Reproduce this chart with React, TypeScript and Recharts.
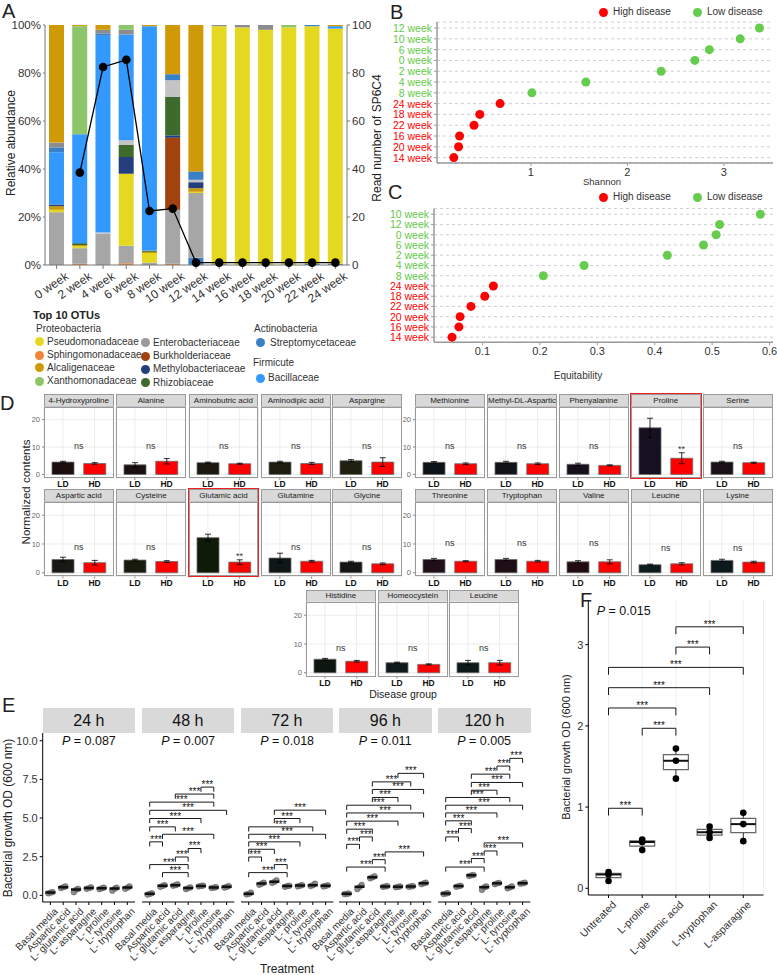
import React from 'react'
import {
  ComposedChart,
  BarChart,
  ScatterChart,
  Bar,
  Line,
  Scatter,
  XAxis,
  YAxis,
  CartesianGrid,
  ErrorBar,
  Cell,
  ReferenceLine,
  ReferenceDot,
  ReferenceArea,
} from 'recharts'

const FONT = '"Liberation Sans", Arial, sans-serif'

// ---------- A: relative abundance of top OTUs + SP6C4 reads
const weeks = ['0 week', '2 week', '4 week', '6 week', '8 week', '10 week', '12 week', '14 week', '16 week', '18 week', '20 week', '22 week', '24 week']
const sphingo = [0, 0.5, 0, 0.7, 0, 0.5, 0, 0, 0, 0, 0, 0, 0]
const streptoLow = [0, 0, 0, 0, 0, 0, 3, 0.3, 0, 0, 0, 0.5, 0.5]
const enteroLow = [22, 6.5, 13, 7.3, 1, 22.5, 27, 0, 0, 0, 0, 0, 0]
const pseudo = [1, 0.8, 0, 30, 4, 0, 0.5, 99.2, 99, 98, 99, 99, 98]
const alcaligLow = [1.5, 0.5, 0, 0, 0.5, 0, 1.5, 0, 0, 0, 0, 0, 0]
const burkh = [0, 0, 0, 0, 0, 30, 0, 0, 0, 0, 0, 0, 0]
const methylo = [0.7, 0, 0, 7, 0, 1, 2.5, 0, 0, 0, 0, 0, 0]
const rhizo = [0, 0.8, 0, 5, 0.5, 16, 0, 0, 0, 0, 0, 0, 0]
const otherLow = [0, 0, 0.5, 2, 0, 7, 1, 0, 0, 0, 0, 0, 0]
const bacill = [21.8, 45.4, 82, 44, 93.5, 0, 0, 0, 0, 0, 0, 0, 1]
const strepto = [2, 0, 1, 0, 0, 2.5, 3.5, 0, 0, 0, 0, 0.5, 0]
const enteroHigh = [2, 0, 1.5, 2, 0, 0, 0, 0.5, 1, 2, 0, 0, 0]
const xantho = [0, 45, 0, 2, 0, 0, 0, 0, 0, 0, 1, 0, 0]
const alcalig = [49, 0.5, 2, 0, 0.5, 20.5, 61, 0, 0, 0, 0, 0, 0.5]
const sp6c4 = [null, 38.5, 82.5, 85.5, 22.5, 23.5, 1, 1, 1, 1, 1, 1, 1]

const layersA = [
  { key: 'sphingo', color: '#F08336', values: sphingo },
  { key: 'streptoLow', color: '#3A80C6', values: streptoLow },
  { key: 'enteroLow', color: '#A6A6A6', values: enteroLow },
  { key: 'pseudo', color: '#E5D821', values: pseudo },
  { key: 'alcaligLow', color: '#C89A0A', values: alcaligLow },
  { key: 'burkh', color: '#A2430F', values: burkh },
  { key: 'methylo', color: '#243F7E', values: methylo },
  { key: 'rhizo', color: '#3E6A2B', values: rhizo },
  { key: 'otherLow', color: '#C4C4C4', values: otherLow },
  { key: 'bacill', color: '#3399FF', values: bacill },
  { key: 'strepto', color: '#3A80C6', values: strepto },
  { key: 'enteroHigh', color: '#8C8C8C', values: enteroHigh },
  { key: 'xantho', color: '#8DC66A', values: xantho },
  { key: 'alcalig', color: '#D09A06', values: alcalig },
]

const dataA = weeks.map((w, i) => {
  const row: any = { week: w, sp6c4: sp6c4[i] }
  layersA.forEach((l) => (row[l.key] = l.values[i]))
  return row
})

const legendCol1 = ['Pseudomonadaceae', 'Sphingomonadaceae', 'Alcaligenaceae', 'Xanthomonadaceae']
const legendCol1Colors = ['#E5D821', '#F08336', '#D09A06', '#8DC66A']
const legendCol2 = ['Enterobacteriaceae', 'Burkholderiaceae', 'Methylobacteriaceae', 'Rhizobiaceae']
const legendCol2Colors = ['#9A9A9A', '#A2430F', '#243F7E', '#3E6A2B']

// ---------- B / C: diversity per week (bottom to top)
const bWeeks = ['14 week', '20 week', '16 week', '22 week', '18 week', '24 week', '8 week', '4 week', '2 week', '0 week', '6 week', '10 week', '12 week']
const bShannon = [0.2, 0.25, 0.26, 0.41, 0.47, 0.68, 1.01, 1.57, 2.35, 2.7, 2.85, 3.17, 3.37]
const bHigh = [true, true, true, true, true, true, false, false, false, false, false, false, false]
const cWeeks = ['14 week', '16 week', '20 week', '22 week', '18 week', '24 week', '8 week', '4 week', '2 week', '6 week', '0 week', '12 week', '10 week']
const cEquit = [0.047, 0.059, 0.061, 0.08, 0.104, 0.119, 0.206, 0.277, 0.422, 0.485, 0.507, 0.513, 0.584]
const cHigh = [true, true, true, true, true, true, false, false, false, false, false, false, false]

// ---------- D: amino acid contents
const aminoNames = ['4-Hydroxyproline', 'Alanine', 'Aminobutric acid', 'Aminodipic acid', 'Aspargine', 'Methionine', 'Methyl-DL-Aspartic', 'Phenyalanine', 'Proline', 'Serine', 'Aspartic acid', 'Cysteine', 'Glutamic acid', 'Glutamine', 'Glycine', 'Threonine', 'Tryptophan', 'Valine', 'Leucine', 'Lysine', 'Histidine', 'Homeocystein', 'Leucine']
const ldMean = [4.5, 3.5, 4.3, 4.5, 5.0, 4.4, 4.4, 3.7, 17, 4.5, 4.6, 4.4, 12.2, 5.1, 3.7, 4.6, 4.6, 3.8, 2.8, 4.3, 4.7, 3.5, 3.5]
const ldErr = [0.3, 0.8, 0.2, 0.3, 0.4, 0.3, 0.4, 0.4, 3.5, 0.3, 0.8, 0.3, 1.2, 1.7, 0.3, 0.4, 0.4, 0.4, 0.2, 0.4, 0.3, 0.2, 0.8]
const hdMean = [4.0, 4.8, 3.9, 4.0, 4.5, 3.9, 3.9, 3.3, 5.9, 4.3, 3.5, 3.9, 3.7, 4.0, 3.1, 4.0, 4.0, 3.8, 3.1, 3.7, 4.0, 2.9, 3.5]
const hdErr = [0.3, 1.0, 0.2, 0.4, 1.6, 0.3, 0.3, 0.2, 2.0, 0.2, 0.8, 0.3, 0.8, 0.3, 0.3, 0.2, 0.3, 0.7, 0.4, 0.3, 0.3, 0.2, 0.8]
const sigText = ['ns', 'ns', 'ns', 'ns', 'ns', 'ns', 'ns', 'ns', '**', 'ns', 'ns', 'ns', '**', 'ns', 'ns', 'ns', 'ns', 'ns', 'ns', 'ns', 'ns', 'ns', 'ns']
const sigY = [10.3, 10.3, 10.3, 10.3, 10.3, 10.3, 10.3, 10.3, 9.3, 10.3, 9.1, 9.1, 5.8, 9.1, 9.1, 10.3, 10.3, 10.3, 8.6, 8.6, 8.8, 8.8, 8.8]
const ldColors = ['#1C0D0E', '#1A1010', '#1B1812', '#1C1C10', '#202010', '#0C1418', '#101418', '#16101C', '#171020', '#1A1018', '#181814', '#181A0E', '#101A08', '#0E1616', '#141616', '#200E18', '#200E16', '#200C0E', '#0E1C1E', '#0C1A1E', '#0E1610', '#101A1E', '#0E1A1A']
const highlighted = ['Proline', 'Glutamic acid']

// ---------- E: growth with amino acids over time
const treatments = ['Basal media', 'Aspartic acid', 'L- glutamic acid', 'L- asparagine', 'L- proline', 'L- tyrosine', 'L- tryptophan']
const hours = ['24 h', '48 h', '72 h', '96 h', '120 h']
const pValues = ['0.087', '0.007', '0.018', '0.011', '0.005']
const od24 = [[0.13, 0.18, 0.21], [0.47, 0.53, 0.58], [0.2, 0.38, 0.42], [0.42, 0.48, 0.52], [0.4, 0.46, 0.5], [0.3, 0.44, 0.5], [0.42, 0.5, 0.58]]
const od48 = [[0.05, 0.1, 0.14], [0.55, 0.62, 0.66], [0.62, 0.66, 0.72], [0.4, 0.47, 0.52], [0.58, 0.61, 0.63], [0.48, 0.5, 0.53], [0.5, 0.55, 0.6]]
const od72 = [[0.06, 0.1, 0.18], [0.68, 0.76, 0.82], [0.8, 0.88, 0.98], [0.55, 0.6, 0.62], [0.58, 0.63, 0.66], [0.6, 0.66, 0.76], [0.58, 0.62, 0.65]]
const od96 = [[0.08, 0.1, 0.12], [0.4, 0.55, 0.68], [1.1, 1.17, 1.24], [0.55, 0.58, 0.6], [0.52, 0.55, 0.58], [0.55, 0.58, 0.6], [0.72, 0.78, 0.82]]
const od120 = [[0.08, 0.12, 0.14], [0.55, 0.6, 0.62], [1.25, 1.3, 1.32], [0.35, 0.53, 0.58], [0.72, 0.78, 0.8], [0.45, 0.52, 0.58], [0.75, 0.78, 0.82]]
const odAll = [od24, od48, od72, od96, od120]
const sig24: number[][] = []
const sig48 = [[5, 6, 7.0], [3, 6, 6.55], [1, 6, 6.03], [1, 7, 5.5], [1, 5, 4.97], [1, 3, 4.43], [2, 6, 3.95], [1, 2, 3.46], [4, 5, 3.03], [3, 4, 2.48], [1, 4, 1.99], [2, 4, 1.47]]
const sig72 = [[3, 7, 5.51], [3, 5, 4.97], [1, 6, 4.43], [1, 7, 3.95], [1, 5, 3.46], [1, 3, 2.98], [1, 2, 2.48], [3, 4, 1.99], [1, 4, 1.47]]
const sig96 = [[5, 7, 7.89], [3, 6, 7.34], [3, 7, 6.85], [3, 5, 6.33], [1, 6, 5.83], [1, 7, 5.33], [1, 5, 4.8], [1, 3, 4.28], [2, 3, 3.78], [1, 2, 3.3], [4, 7, 2.81], [3, 4, 2.31], [1, 4, 1.83]]
const sig120 = [[6, 7, 8.86], [5, 6, 8.36], [3, 6, 7.84], [3, 7, 7.3], [3, 5, 6.8], [1, 6, 6.33], [1, 7, 5.83], [1, 5, 5.33], [1, 3, 4.82], [2, 3, 4.32], [1, 2, 3.78], [4, 7, 3.39], [4, 5, 2.87], [3, 4, 2.38], [1, 4, 1.83]]
const sigAll = [sig24, sig48, sig72, sig96, sig120]

// ---------- F: growth with single amino acids
const fGroups = ['Untreated', 'L-proline', 'L-glutamic acid', 'L-tryptophan', 'L-asparagine']
const fPoints = [[0.09, 0.17, 0.2], [0.47, 0.57, 0.6], [1.35, 1.57, 1.72], [0.62, 0.69, 0.76], [0.58, 0.79, 0.93]]
const fSig = [[1, 2, 0.985], [2, 3, 1.97], [1, 3, 2.22], [1, 4, 2.47], [1, 5, 2.72], [3, 4, 2.97], [3, 5, 3.22]]
const fP = '0.015'

// ---------- helpers
function Txt({ x, y, children, size = 12, anchor = 'middle', rotate = 0, weight = 400, color = '#222' }: any) {
  const tx = anchor === 'middle' ? '-50%' : anchor === 'end' ? '-100%' : '0'
  return (
    <div
      style={{
        position: 'absolute',
        left: x,
        top: y,
        transform: `translate(${tx}, -50%) rotate(${rotate}deg)`,
        whiteSpace: 'nowrap',
        fontSize: size,
        fontWeight: weight,
        color,
        lineHeight: 1,
        fontFamily: FONT,
      }}
    >
      {children}
    </div>
  )
}

const rotTick = (labels: (v: any) => string, angle: number, size: number, dx: number, color = '#333') => (p: any) => {
  const ax = p.x + dx
  const ay = p.y
  return (
    <text x={ax} y={ay} transform={`rotate(${angle} ${ax} ${ay})`} textAnchor="end" dy="0.72em" fontSize={size} fill={color} fontFamily={FONT}>
      {labels(p.payload.value)}
    </text>
  )
}

function PanelA() {
  return (
    <div style={{ position: 'absolute', left: 0, top: 0 }}>
      <ComposedChart width={400} height={310} data={dataA} margin={{ top: 25, right: 0, bottom: 0, left: 0 }}>
        <XAxis dataKey="week" height={45} interval={0} tickSize={4} stroke="#777" tick={rotTick((v) => v, -34, 12, 8)} />
        <YAxis
          yAxisId="l"
          width={45}
          domain={[0, 100]}
          ticks={[0, 20, 40, 60, 80, 100]}
          tickFormatter={(v) => `${v}%`}
          tickSize={2}
          stroke="#777"
          tick={{ fontSize: 11.5, fill: '#333', fontFamily: FONT }}
        />
        <YAxis
          yAxisId="r"
          orientation="right"
          width={53}
          domain={[0, 100]}
          ticks={[0, 20, 40, 60, 80, 100]}
          tickSize={3}
          stroke="#777"
          tick={{ fontSize: 11.5, fill: '#333', fontFamily: FONT }}
        />
        {layersA.map((l) => (
          <Bar key={l.key} yAxisId="l" dataKey={l.key} stackId="s" fill={l.color} barSize={15} isAnimationActive={false} />
        ))}
        <Line
          yAxisId="r"
          type="linear"
          dataKey="sp6c4"
          stroke="#000"
          strokeWidth={1.3}
          dot={{ r: 4.3, fill: '#000', stroke: '#000', strokeWidth: 0 }}
          activeDot={false}
          isAnimationActive={false}
        />
      </ComposedChart>
      <Txt x={11} y={143} size={12} rotate={-90}>Relative abundance</Txt>
      <Txt x={377} y={138} size={12} rotate={-90}>Read number of SP6C4</Txt>
    </div>
  )
}

function Swatch({ x, y, color }: any) {
  return <div style={{ position: 'absolute', left: x - 4.5, top: y - 4.5, width: 9, height: 9, borderRadius: '50%', background: color }} />
}

function LegendA() {
  const r1 = [341.7, 355, 367.7, 381]
  const r2 = [342.7, 356, 369, 382.7]
  return (
    <div>
      <Txt x={33} y={315} size={11} weight={700} anchor="start">Top 10 OTUs</Txt>
      <Txt x={36} y={329} size={10} anchor="start" color="#333">Proteobacteria</Txt>
      {legendCol1.map((n, i) => (
        <div key={n}>
          <Swatch x={39} y={r1[i]} color={legendCol1Colors[i]} />
          <Txt x={47} y={r1[i]} size={10} anchor="start" color="#333">{n}</Txt>
        </div>
      ))}
      {legendCol2.map((n, i) => (
        <div key={n}>
          <Swatch x={145} y={r2[i]} color={legendCol2Colors[i]} />
          <Txt x={153} y={r2[i]} size={10} anchor="start" color="#333">{n}</Txt>
        </div>
      ))}
      <Txt x={254} y={329} size={10} anchor="start" color="#333">Actinobacteria</Txt>
      <Swatch x={260} y={342.5} color="#3A80C6" />
      <Txt x={270} y={342.5} size={10} anchor="start" color="#333">Streptomycetaceae</Txt>
      <Txt x={253} y={363} size={10} anchor="start" color="#333">Firmicute</Txt>
      <Swatch x={260} y={378} color="#3399FF" />
      <Txt x={268} y={378} size={10} anchor="start" color="#333">Bacillaceae</Txt>
    </div>
  )
}

function DotPlot({ left, top, width, height, mTop, yW, xH, labels, values, high, domain, ticks, fmt }: any) {
  const pts = labels.map((_: string, i: number) => ({ x: values[i], y: i, hi: high[i] }))
  const rowTick = (p: any) => (
    <text x={p.x} y={p.y} textAnchor="end" dominantBaseline="central" fontSize={10.5} fill={high[p.payload.value] ? '#FF0000' : '#62C946'} fontFamily={FONT}>
      {labels[p.payload.value]}
    </text>
  )
  return (
    <div style={{ position: 'absolute', left, top }}>
      <ScatterChart width={width} height={height} margin={{ top: mTop, right: 4, bottom: 0, left: 0 }}>
        <CartesianGrid vertical={false} stroke="#cfcfcf" strokeDasharray="3 3" />
        <XAxis
          type="number"
          dataKey="x"
          domain={domain}
          allowDataOverflow
          ticks={ticks}
          tickFormatter={fmt}
          height={xH}
          axisLine={{ stroke: '#9a9a9a', strokeWidth: 1.5 }}
          tickLine={{ stroke: '#9a9a9a' }}
          tickSize={3}
          tick={{ fontSize: 11, fill: '#333', fontFamily: FONT }}
        />
        <YAxis
          type="number"
          dataKey="y"
          domain={[-0.5, 12.55]}
          allowDataOverflow
          ticks={labels.map((_: string, i: number) => i)}
          interval={0}
          width={yW}
          axisLine={{ stroke: '#9a9a9a', strokeWidth: 1.5 }}
          tickLine={{ stroke: '#9a9a9a' }}
          tickSize={3}
          tick={rowTick}
        />
        <Scatter data={pts.filter((p: any) => p.hi)} isAnimationActive={false} shape={(p: any) => <circle cx={p.cx} cy={p.cy} r={4.5} fill="#FF0000" />} />
        <Scatter data={pts.filter((p: any) => !p.hi)} isAnimationActive={false} shape={(p: any) => <circle cx={p.cx} cy={p.cy} r={4.5} fill="#66CC4D" />} />
      </ScatterChart>
    </div>
  )
}

function DiseaseLegend({ y }: any) {
  return (
    <div>
      <Swatch x={603} y={y} color="#FF0000" />
      <Txt x={613} y={y} size={10} anchor="start" color="#333">High disease</Txt>
      <Swatch x={697} y={y} color="#66CC4D" />
      <Txt x={707} y={y} size={10} anchor="start" color="#333">Low disease</Txt>
    </div>
  )
}

const dCols = [44, 116.3, 188.7, 261, 332.3, 415, 487, 559, 631, 703]
const dRow3 = [306, 378, 449]
const dStripTop = [394, 489, 590]
const dPlotTop = [406.5, 501.7, 602.2]
const dPlotH = [71, 74.5, 74.5]
const dW = 69.5

function DPanel({ i }: any) {
  const row = i < 10 ? 0 : i < 20 ? 1 : 2
  const col = i < 20 ? i % 10 : i - 20
  const x = row < 2 ? dCols[col] : dRow3[col]
  const showY = row < 2 ? col === 0 || col === 5 : col === 0
  const yW = showY ? 15 : 0
  const data = [
    { g: 'LD', v: ldMean[i], e: ldErr[i] },
    { g: 'HD', v: hdMean[i], e: hdErr[i] },
  ]
  const atHD = sigText[i] !== 'ns'
  const hl = highlighted.includes(aminoNames[i]) && row < 2
  const pt = dPlotTop[row]
  const ph = dPlotH[row]
  return (
    <div>
      <div
        style={{
          position: 'absolute',
          left: x,
          top: dStripTop[row],
          width: dW,
          height: pt - dStripTop[row] + 0.5,
          boxSizing: 'border-box',
          background: '#D9D9D9',
          border: '1px solid #9a9a9a',
          fontSize: 8,
          color: '#222',
          fontFamily: FONT,
          textAlign: 'center',
          lineHeight: `${pt - dStripTop[row] - 1.5}px`,
          whiteSpace: 'nowrap',
          overflow: 'hidden',
        }}
      >
        {aminoNames[i]}
      </div>
      <div style={{ position: 'absolute', left: x - yW, top: pt }}>
        <BarChart width={dW + yW} height={ph + 13} data={data} margin={{ top: 0, right: 0, bottom: 0, left: 0 }}>
          <CartesianGrid stroke="#ececec" />
          <XAxis
            dataKey="g"
            height={13}
            padding={{ left: 3, right: 3 }}
            axisLine={false}
            tickSize={2}
            tickMargin={1}
            tickLine={{ stroke: '#888' }}
            tick={{ fontSize: 8.5, fontWeight: 700, fill: '#111', fontFamily: FONT }}
          />
          <YAxis
            domain={[-1.3, 24.6]}
            allowDataOverflow
            ticks={[0, 10, 20]}
            width={yW}
            hide={!showY}
            axisLine={false}
            tickSize={2}
            tickLine={{ stroke: '#888' }}
            tick={{ fontSize: 7.5, fill: '#666', fontFamily: FONT }}
          />
          <Bar dataKey="v" barSize={22} stroke="#6a6a6a" strokeWidth={0.8} isAnimationActive={false}>
            <Cell fill={ldColors[i]} />
            <Cell fill="#FF0000" />
            <ErrorBar dataKey="e" width={3} stroke="#000" strokeWidth={0.8} direction="y" />
          </Bar>
          <ReferenceArea
            x1={atHD ? 'HD' : 'LD'}
            x2="HD"
            y1={sigY[i] - 0.5}
            y2={sigY[i] + 0.5}
            fillOpacity={0}
            strokeOpacity={0}
            label={{ value: sigText[i], position: 'center', fontSize: 9, fill: '#333' }}
          />
        </BarChart>
      </div>
      <div style={{ position: 'absolute', left: x, top: pt, width: dW, height: ph, boxSizing: 'border-box', border: '1px solid #9a9a9a' }} />
      {hl && (
        <div
          style={{
            position: 'absolute',
            left: x - 1,
            top: dStripTop[row] - 1,
            width: dW + 2,
            height: pt + ph - dStripTop[row] + 2,
            boxSizing: 'border-box',
            border: '1.5px solid #EE2222',
          }}
        />
      )}
    </div>
  )
}

const ePanelX = [42.7, 141.7, 240.7, 339.3, 438.3]
const eW = 92.3
const jitter = [-0.17, 0.03, 0.17]

function bracketEls(list: number[][], drop: number, size: number) {
  return list.flatMap(([a, b, y], k) => [
    <ReferenceLine key={`h${k}`} segment={[{ x: a, y }, { x: b, y }]} stroke="#000" strokeWidth={0.9} />,
    <ReferenceLine key={`l${k}`} segment={[{ x: a, y }, { x: a, y: y - drop }]} stroke="#000" strokeWidth={0.9} />,
    <ReferenceLine key={`r${k}`} segment={[{ x: b, y }, { x: b, y: y - drop }]} stroke="#000" strokeWidth={0.9} />,
    <ReferenceDot
      key={`t${k}`}
      x={(a + b) / 2}
      y={y}
      r={0}
      fill="none"
      stroke="none"
      label={{ value: '***', position: 'top', offset: -1, fontSize: size, fill: '#111' }}
    />,
  ])
}

const pLabel = (p: string, size: number) => (props: any) => {
  const vb = props.viewBox || { x: 0, y: 0 }
  return (
    <text x={vb.x} y={vb.y} textAnchor="middle" dominantBaseline="central" fontSize={size} fill="#111" fontFamily={FONT}>
      <tspan fontStyle="italic">P</tspan> = {p}
    </text>
  )
}

function EPanel({ i }: any) {
  const yW = i === 0 ? 42.7 : 0
  const pts = odAll[i].flatMap((reps, k) => reps.map((v, r) => ({ x: k + 1 + jitter[r], y: v })))
  const med = odAll[i].map((reps, k) => ({ x: k + 1, y: [...reps].sort((a, b) => a - b)[1] }))
  return (
    <div>
      <div style={{ position: 'absolute', left: ePanelX[i], top: 708, width: eW, height: 25, background: '#D9D9D9' }} />
      <Txt x={ePanelX[i] + eW / 2} y={720.5} size={16} color="#111">{hours[i]}</Txt>
      <div style={{ position: 'absolute', left: ePanelX[i] - yW, top: 733 }}>
        <ScatterChart width={eW + yW} height={229} margin={{ top: 0, right: 0, bottom: 0, left: 0 }}>
          <XAxis
            type="number"
            dataKey="x"
            domain={[0.4, 7.6]}
            allowDataOverflow
            ticks={[1, 2, 3, 4, 5, 6, 7]}
            interval={0}
            height={60}
            stroke="#000"
            tickSize={3}
            tick={rotTick((v) => treatments[v - 1], -45, 10, 3)}
          />
          <YAxis
            type="number"
            dataKey="y"
            domain={[-0.43, 10.5]}
            allowDataOverflow
            ticks={[0, 2.5, 5, 7.5, 10]}
            width={yW}
            stroke="#000"
            tick={i === 0 ? { fontSize: 11, fill: '#333', fontFamily: FONT } : false}
            tickLine={i === 0}
            tickSize={3}
            tickFormatter={(v) => v.toFixed(1)}
          />
          {bracketEls(sigAll[i], 0.3, 10)}
          <ReferenceDot x={4} y={10} r={0} fill="none" stroke="none" label={pLabel(pValues[i], 12.5)} />
          <Scatter
            data={pts}
            isAnimationActive={false}
            shape={(p: any) => <circle cx={p.cx} cy={p.cy} r={2.8} fill="#7a7a7a" fillOpacity={0.85} stroke="#555" strokeWidth={0.5} />}
          />
          <Scatter
            data={med}
            isAnimationActive={false}
            shape={(p: any) => <line x1={p.cx - 5} x2={p.cx + 5} y1={p.cy} y2={p.cy} stroke="#111" strokeWidth={2.5} />}
          />
        </ScatterChart>
      </div>
    </div>
  )
}

function PanelF() {
  const pts = fPoints.flatMap((reps, k) => reps.map((v) => ({ x: k + 1, y: v })))
  const stats = fPoints.map((reps) => {
    const s = [...reps].sort((a, b) => a - b)
    return { min: s[0], q1: (s[0] + s[1]) / 2, med: s[1], q3: (s[1] + s[2]) / 2, max: s[2] }
  })
  return (
    <div style={{ position: 'absolute', left: 540, top: 590 }}>
      <ScatterChart width={237} height={370} margin={{ top: 10, right: 13.5, bottom: 0, left: 0 }}>
        <CartesianGrid horizontal={false} stroke="#f0f0f0" />
        <XAxis
          type="number"
          dataKey="x"
          domain={[0.4, 5.6]}
          allowDataOverflow
          ticks={[1, 2, 3, 4, 5]}
          interval={0}
          height={65}
          stroke="#000"
          tickSize={3}
          tick={rotTick((v) => fGroups[v - 1], -45, 10.5, 3)}
        />
        <YAxis
          type="number"
          dataKey="y"
          domain={[-0.083, 3.55]}
          allowDataOverflow
          ticks={[0, 1, 2, 3]}
          width={48.3}
          stroke="#000"
          tickSize={3}
          tick={{ fontSize: 11, fill: '#333', fontFamily: FONT }}
        />
        {stats.map((s, k) => (
          <ReferenceLine key={`wu${k}`} segment={[{ x: k + 1, y: s.q3 }, { x: k + 1, y: s.max }]} stroke="#333" strokeWidth={1} />
        ))}
        {stats.map((s, k) => (
          <ReferenceLine key={`wl${k}`} segment={[{ x: k + 1, y: s.q1 }, { x: k + 1, y: s.min }]} stroke="#333" strokeWidth={1} />
        ))}
        {stats.map((s, k) => (
          <ReferenceArea key={`b${k}`} x1={k + 0.63} x2={k + 1.37} y1={s.q1} y2={s.q3} fill="#fff" fillOpacity={1} stroke="#666" strokeWidth={1.2} />
        ))}
        {stats.map((s, k) => (
          <ReferenceLine key={`m${k}`} segment={[{ x: k + 0.63, y: s.med }, { x: k + 1.37, y: s.med }]} stroke="#111" strokeWidth={2} />
        ))}
        {bracketEls(fSig, 0.09, 10)}
        <ReferenceDot x={1.45} y={3.42} r={0} fill="none" stroke="none" label={pLabel(fP, 12.5)} />
        <Scatter data={pts} isAnimationActive={false} shape={(p: any) => <circle cx={p.cx} cy={p.cy} r={3.3} fill="#000" />} />
      </ScatterChart>
    </div>
  )
}

export default function App() {
  return (
    <div style={{ position: 'absolute', left: 0, top: 0, width: 777, height: 975, background: '#fff', fontFamily: FONT, overflow: 'hidden' }}>
      <style>{'.recharts-surface { overflow: visible; }'}</style>
      <PanelA />
      <LegendA />
      <DotPlot
        left={380}
        top={0}
        width={397}
        height={197}
        mTop={22.1}
        yW={57}
        xH={34}
        labels={bWeeks}
        values={bShannon}
        high={bHigh}
        domain={[0.026, 3.51]}
        ticks={[1, 2, 3]}
        fmt={(v: number) => String(v)}
      />
      <DiseaseLegend y={12} />
      <Txt x={602} y={182} size={9.5} color="#333">Shannon</Txt>
      <DotPlot
        left={380}
        top={200}
        width={397}
        height={185}
        mTop={8.6}
        yW={54}
        xH={42.7}
        labels={cWeeks}
        values={cEquit}
        high={cHigh}
        domain={[0.0156, 0.606]}
        ticks={[0.1, 0.2, 0.3, 0.4, 0.5, 0.6]}
        fmt={(v: number) => v.toFixed(1)}
      />
      <DiseaseLegend y={197} />
      <Txt x={578} y={376} size={10} color="#333">Equitability</Txt>
      {aminoNames.map((_, i) => (
        <DPanel key={i} i={i} />
      ))}
      <Txt x={27} y={492} size={11.5} rotate={-90} color="#222">Normalized contents</Txt>
      <Txt x={403} y={694} size={10.5} color="#222">Disease group</Txt>
      {hours.map((_, i) => (
        <EPanel key={i} i={i} />
      ))}
      <Txt x={8} y={818} size={12} rotate={-90} color="#222">Bacterial growth OD (600 nm)</Txt>
      <Txt x={287} y={969} size={12} color="#222">Treatment</Txt>
      <PanelF />
      <Txt x={566} y={747} size={11} rotate={-90} color="#222">Bacterial growth OD (600 nm)</Txt>
      <Txt x={2} y={11} size={20} anchor="start">A</Txt>
      <Txt x={390} y={12} size={20} anchor="start">B</Txt>
      <Txt x={388} y={192} size={20} anchor="start">C</Txt>
      <Txt x={0} y={403} size={20} anchor="start">D</Txt>
      <Txt x={2} y={705} size={20} anchor="start">E</Txt>
      <Txt x={580} y={600} size={20} anchor="start">F</Txt>
    </div>
  )
}
